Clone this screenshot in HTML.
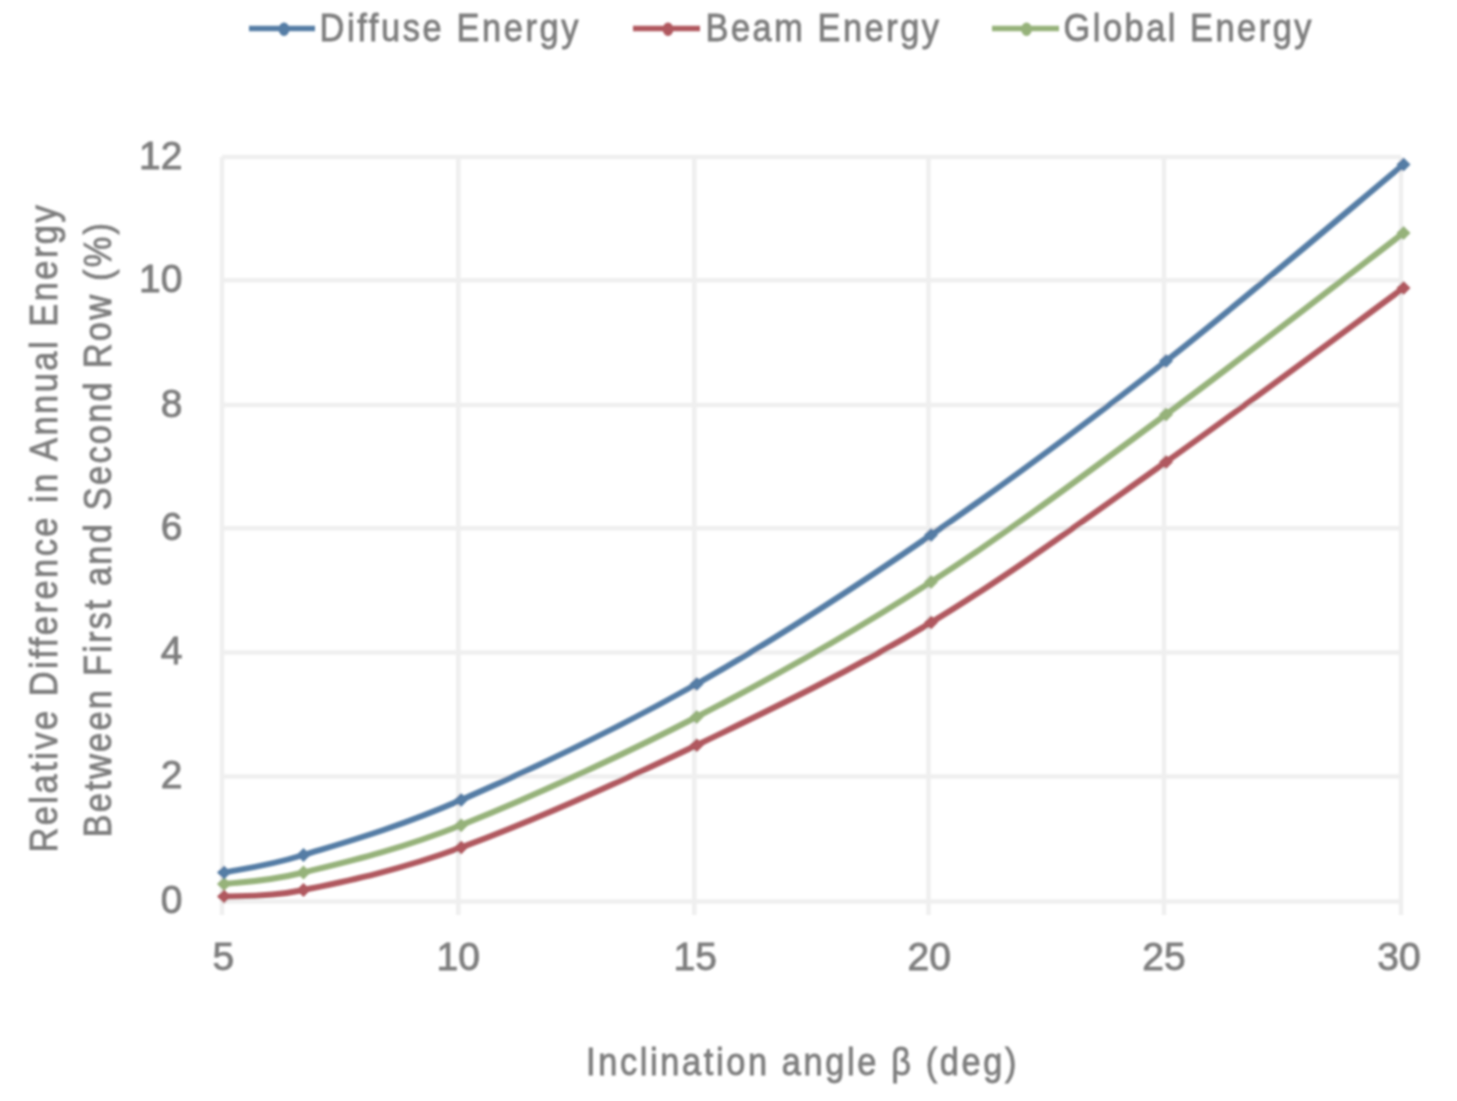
<!DOCTYPE html>
<html><head><meta charset="utf-8"><style>
html,body{margin:0;padding:0;background:#fff;}
svg{display:block;}
text{font-family:"Liberation Sans",sans-serif;fill:#7e7e7e;stroke:#7e7e7e;stroke-width:0.9px;}
</style></head><body>
<svg width="1457" height="1101" viewBox="0 0 1457 1101">
<defs><filter id="b" x="-5%" y="-5%" width="110%" height="110%"><feGaussianBlur stdDeviation="1.1"/></filter></defs>
<rect width="1457" height="1101" fill="#fff"/>
<g filter="url(#b)">
<path d="M222,157V915M458.3,157V915M694.3,157V915M928.5,157V915M1164,157V915M1401,157V915M222,901.5H1401M222,776.5H1401M222,652.6H1401M222,528.2H1401M222,405.0H1401M222,280.2H1401M222,157.0H1401" stroke="#efefef" stroke-width="4.5" fill="none"/>
<path d="M224.0,884.0 C237.2,882.1 264.0,882.3 303.5,872.5 C343.0,862.7 395.5,851.1 461.0,825.2 C526.5,799.3 618.3,757.5 696.6,717.0 C774.9,676.5 852.8,632.4 931.0,582.0 C1009.2,531.6 1087.2,472.7 1166.0,414.5 C1244.8,356.3 1363.9,263.2 1403.5,233.0" fill="none" stroke="#96B27A" stroke-width="6.0" stroke-linecap="round" stroke-linejoin="round"/>
<path d="M224.0,877.0 L231.0,884.0 L224.0,891.0 L217.0,884.0 Z" fill="#96B27A"/><path d="M303.5,865.5 L310.5,872.5 L303.5,879.5 L296.5,872.5 Z" fill="#96B27A"/><path d="M461.0,818.2 L468.0,825.2 L461.0,832.2 L454.0,825.2 Z" fill="#96B27A"/><path d="M696.6,710.0 L703.6,717.0 L696.6,724.0 L689.6,717.0 Z" fill="#96B27A"/><path d="M931.0,575.0 L938.0,582.0 L931.0,589.0 L924.0,582.0 Z" fill="#96B27A"/><path d="M1166.0,407.5 L1173.0,414.5 L1166.0,421.5 L1159.0,414.5 Z" fill="#96B27A"/><path d="M1403.5,226.0 L1410.5,233.0 L1403.5,240.0 L1396.5,233.0 Z" fill="#96B27A"/>
<path d="M224.0,896.5 C237.2,895.4 264.0,898.2 303.5,890.0 C343.0,881.8 395.5,871.6 461.0,847.5 C526.5,823.4 618.3,782.7 696.6,745.2 C774.9,707.7 852.8,669.8 931.0,622.6 C1009.2,575.4 1087.2,517.8 1166.0,462.0 C1244.8,406.2 1363.9,317.0 1403.5,288.0" fill="none" stroke="#B0585F" stroke-width="6.0" stroke-linecap="round" stroke-linejoin="round"/>
<path d="M224.0,889.5 L231.0,896.5 L224.0,903.5 L217.0,896.5 Z" fill="#B0585F"/><path d="M303.5,883.0 L310.5,890.0 L303.5,897.0 L296.5,890.0 Z" fill="#B0585F"/><path d="M461.0,840.5 L468.0,847.5 L461.0,854.5 L454.0,847.5 Z" fill="#B0585F"/><path d="M696.6,738.2 L703.6,745.2 L696.6,752.2 L689.6,745.2 Z" fill="#B0585F"/><path d="M931.0,615.6 L938.0,622.6 L931.0,629.6 L924.0,622.6 Z" fill="#B0585F"/><path d="M1166.0,455.0 L1173.0,462.0 L1166.0,469.0 L1159.0,462.0 Z" fill="#B0585F"/><path d="M1403.5,281.0 L1410.5,288.0 L1403.5,295.0 L1396.5,288.0 Z" fill="#B0585F"/>
<path d="M224.0,872.5 C237.2,869.6 264.0,867.1 303.5,855.0 C343.0,842.9 395.5,828.5 461.0,800.0 C526.5,771.5 618.3,728.2 696.6,684.0 C774.9,639.8 852.8,588.8 931.0,535.0 C1009.2,481.2 1087.2,422.8 1166.0,361.0 C1244.8,299.2 1363.9,197.2 1403.5,164.5" fill="none" stroke="#557DA5" stroke-width="6.0" stroke-linecap="round" stroke-linejoin="round"/>
<path d="M224.0,865.5 L231.0,872.5 L224.0,879.5 L217.0,872.5 Z" fill="#557DA5"/><path d="M303.5,848.0 L310.5,855.0 L303.5,862.0 L296.5,855.0 Z" fill="#557DA5"/><path d="M461.0,793.0 L468.0,800.0 L461.0,807.0 L454.0,800.0 Z" fill="#557DA5"/><path d="M696.6,677.0 L703.6,684.0 L696.6,691.0 L689.6,684.0 Z" fill="#557DA5"/><path d="M931.0,528.0 L938.0,535.0 L931.0,542.0 L924.0,535.0 Z" fill="#557DA5"/><path d="M1166.0,354.0 L1173.0,361.0 L1166.0,368.0 L1159.0,361.0 Z" fill="#557DA5"/><path d="M1403.5,157.5 L1410.5,164.5 L1403.5,171.5 L1396.5,164.5 Z" fill="#557DA5"/>
<line x1="249" y1="28.5" x2="315" y2="28.5" stroke="#557DA5" stroke-width="5.5"/><ellipse cx="284" cy="29.3" rx="5.3" ry="6.8" fill="#557DA5"/>
<line x1="633" y1="28.5" x2="700" y2="28.5" stroke="#B0585F" stroke-width="5.5"/><ellipse cx="668" cy="29.3" rx="5.3" ry="6.8" fill="#B0585F"/>
<line x1="992" y1="28.5" x2="1059" y2="28.5" stroke="#96B27A" stroke-width="5.5"/><ellipse cx="1026.5" cy="29.3" rx="5.3" ry="6.8" fill="#96B27A"/>
<text transform="translate(182.5,913.0)" font-size="39" text-anchor="end">0</text>
<text transform="translate(182.5,788.0)" font-size="39" text-anchor="end">2</text>
<text transform="translate(182.5,664.1)" font-size="39" text-anchor="end">4</text>
<text transform="translate(182.5,539.7)" font-size="39" text-anchor="end">6</text>
<text transform="translate(182.5,416.5)" font-size="39" text-anchor="end">8</text>
<text transform="translate(182.5,291.7)" font-size="39" text-anchor="end">10</text>
<text transform="translate(182.5,168.5)" font-size="39" text-anchor="end">12</text>
<text transform="translate(223.4,970)" font-size="39" text-anchor="middle">5</text>
<text transform="translate(458.2,970)" font-size="39" text-anchor="middle">10</text>
<text transform="translate(695.3,970)" font-size="39" text-anchor="middle">15</text>
<text transform="translate(929.3,970)" font-size="39" text-anchor="middle">20</text>
<text transform="translate(1164,970)" font-size="39" text-anchor="middle">25</text>
<text transform="translate(1399,970)" font-size="39" text-anchor="middle">30</text>
<text transform="translate(319.5,41) scale(0.88,1)" font-size="39" textLength="294.3" lengthAdjust="spacing">Diffuse Energy</text>
<text transform="translate(705.5,41) scale(0.88,1)" font-size="39" textLength="265.3" lengthAdjust="spacing">Beam Energy</text>
<text transform="translate(1063.5,41) scale(0.88,1)" font-size="39" textLength="281.8" lengthAdjust="spacing">Global Energy</text>
<text transform="translate(586,1074.5) scale(0.88,1)" font-size="39" textLength="489.2" lengthAdjust="spacing">Inclination angle &#946; (deg)</text>
<text transform="translate(57,852.6) rotate(-90) scale(0.88,1)" font-size="39" textLength="735.5" lengthAdjust="spacing">Relative Difference in Annual Energy</text>
<text transform="translate(110.5,837.4) rotate(-90) scale(0.88,1)" font-size="39" textLength="698.2" lengthAdjust="spacing">Between First and Second Row (%)</text>
</g>
</svg>
</body></html>
